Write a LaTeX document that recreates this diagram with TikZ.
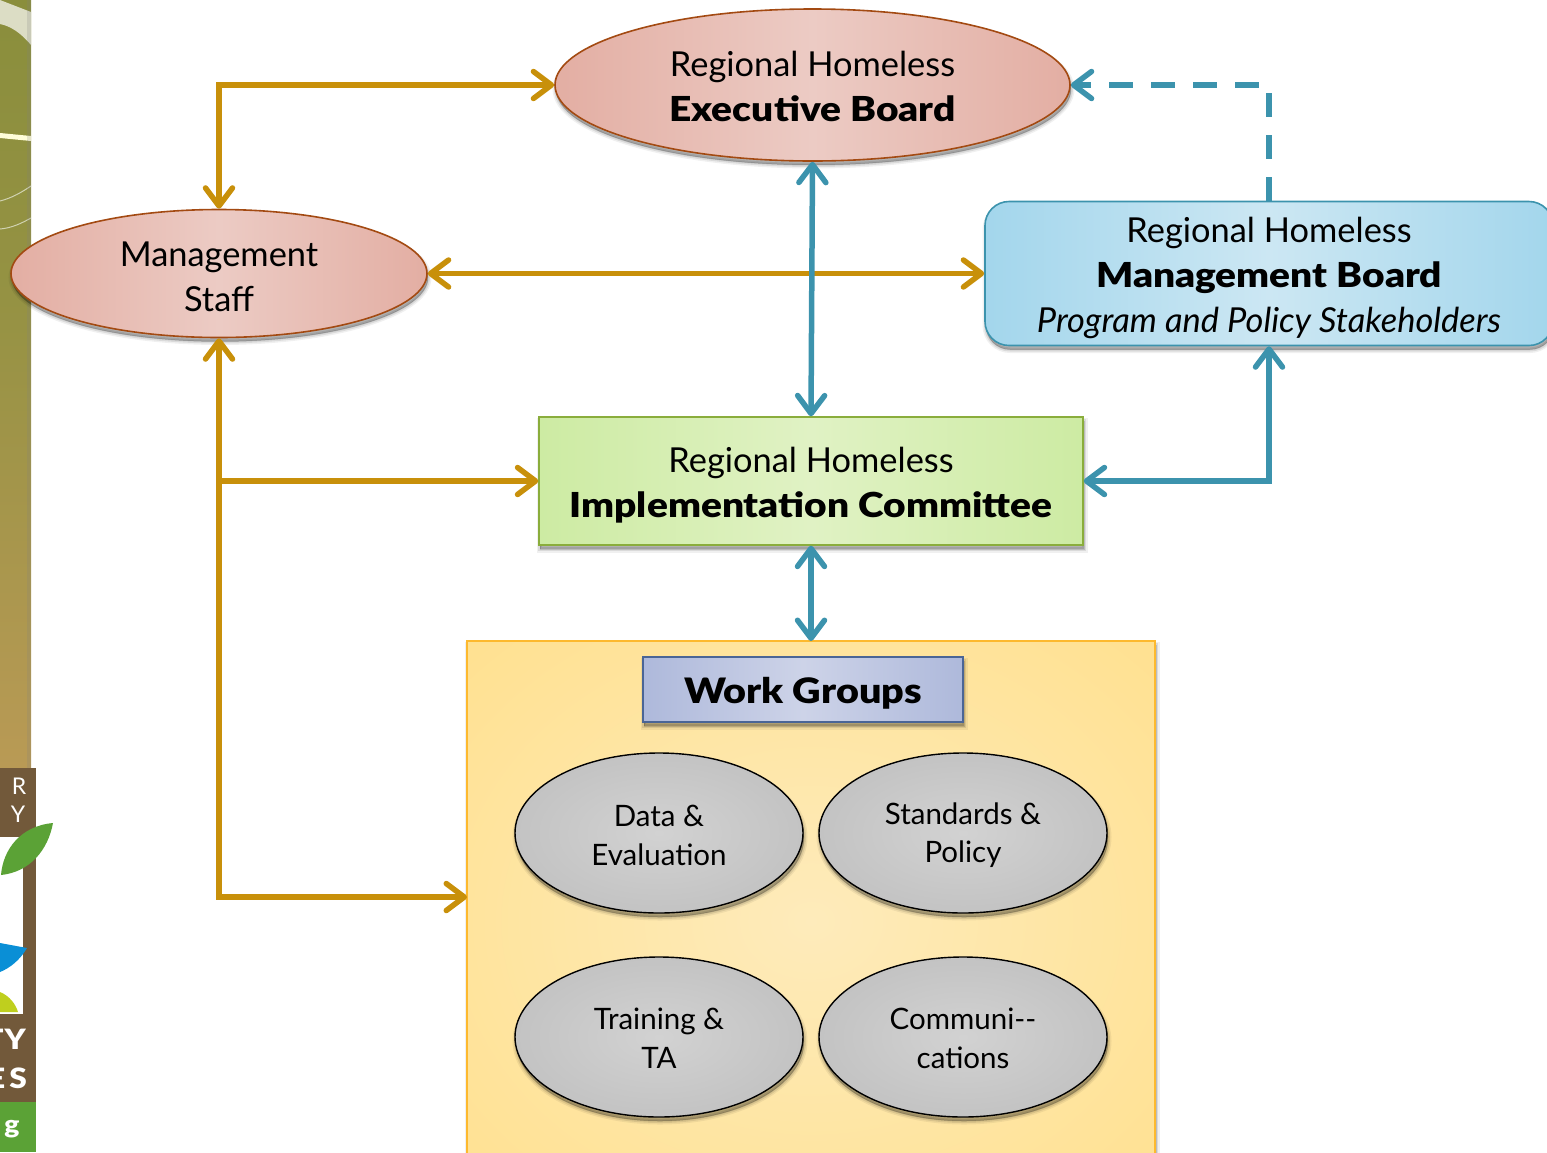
\documentclass[tikz,border=0pt]{standalone}
\usepackage{fontspec}
\setmainfont{Lato}[BoldFont={Lato Black},BoldFeatures={FakeStretch=1.13}]
\usetikzlibrary{arrows.meta,shapes.geometric,calc}
\definecolor{gold}{HTML}{C8900A}
\definecolor{teal}{HTML}{3C93AD}
\definecolor{brownln}{HTML}{A34A12}
\definecolor{brownbk}{HTML}{72593A}
\definecolor{pinkedge}{HTML}{E3AEA3}
\definecolor{pinkmid}{HTML}{ECCBC4}
\definecolor{graymid}{HTML}{D2D2D2}
\definecolor{grayedge}{HTML}{B4B4B4}
\definecolor{blueedge}{HTML}{A3D6EC}
\definecolor{bluemid}{HTML}{CCE7F3}
\definecolor{greenedge}{HTML}{CDEBA3}
\definecolor{greenmid}{HTML}{E0F2C4}
\definecolor{greenln}{HTML}{8AAD3C}
\definecolor{yellowmid}{HTML}{FEEBBB}
\definecolor{yellowedge}{HTML}{FFDE85}
\definecolor{yellowln}{HTML}{FDB92E}
\definecolor{lavedge}{HTML}{AEB9DB}
\definecolor{lavmid}{HTML}{CDD3E8}
\definecolor{lavln}{HTML}{4A6596}
\definecolor{stripa}{HTML}{8A8E3C}
\definecolor{stripb}{HTML}{959243}
\definecolor{stripc}{HTML}{B99A55}
\definecolor{leafgreen}{HTML}{5BA236}
\definecolor{leafblue}{HTML}{0A8FD6}
\definecolor{leaflime}{HTML}{BFCF1E}
\pgfdeclareradialshading{graysh}{\pgfpoint{0bp}{0bp}}{color(0bp)=(graymid);color(50bp)=(grayedge);color(72bp)=(grayedge)}
\pgfdeclareradialshading{yelsh}{\pgfpoint{0bp}{0bp}}{color(0bp)=(yellowmid);color(45bp)=(yellowedge);color(72bp)=(yellowedge)}
\newcommand{\dn}[1]{\rule{0pt}{#1pt}}
\tikzset{
 softshadow/.style={
  preaction={draw=black,fill=black,opacity=.06,line width=7pt,transform canvas={shift={(1pt,-4pt)}}},
  preaction={draw=black,fill=black,opacity=.09,line width=4pt,transform canvas={shift={(1pt,-4pt)}}},
  preaction={draw=black,fill=black,opacity=.14,line width=1pt,transform canvas={shift={(1pt,-4pt)}}}},
 bigtext/.style={align=center,font=\fontsize{34.4}{45}\selectfont},
 pinkell/.style={ellipse,inner sep=0pt,draw=brownln,line width=1.6pt,softshadow,left color=pinkedge,right color=pinkedge,middle color=pinkmid,bigtext},
 grayell/.style={ellipse,inner sep=0pt,draw=black,line width=1.4pt,minimum width=288pt,minimum height=160pt,softshadow,shading=graysh,align=center,font=\fontsize{29.5}{38.5}\selectfont},
 flow/.style={line width=5.5pt,line cap=round,line join=miter,{Straight Barb[length=18pt,width=27pt,round]}-{Straight Barb[length=18pt,width=27pt,round]}},
 flowgold/.style={flow,draw=gold},
 flowteal/.style={flow,draw=teal},
 oneway/.style={line width=5.5pt,draw=gold,-{Straight Barb[length=18pt,width=27pt,round]}},
}
\begin{document}
\begin{tikzpicture}[x=1pt,y=-1pt]
\useasboundingbox (0,0) rectangle (1547,1152);
% left decoration
\shade[top color=stripa,bottom color=stripb] (0,0) rectangle (31,300);
\shade[top color=stripb,bottom color=stripc] (0,300) rectangle (31,768);
\fill[white!70!stripa] (0,0) -- (31,12) -- (31,45) .. controls (20,32) and (10,26) .. (0,24) -- cycle;
\fill[white!85!yellow] (0,133) -- (31,136) -- (31,141) -- (0,138) -- cycle;
\draw[white!60!stripa,line width=1pt] (0,201) .. controls (12,198) and (22,192) .. (31,186);
\draw[white!60!stripa,line width=1pt] (0,229) .. controls (12,228) and (22,223) .. (31,218);
\fill[gray,opacity=.2] (27,0) rectangle (31,768);
\fill[brownbk] (0,768) rectangle (36,1102);
\fill[white] (0,837) rectangle (23,1014);
\fill[leafgreen] (1,875) .. controls (3,850) and (20,826) .. (53,823) .. controls (48,850) and (30,872) .. (1,875) -- cycle;
\fill[leafblue] (0,943) -- (27,948) .. controls (20,960) and (10,968) .. (0,972) -- cycle;
\fill[leaflime] (0,992) .. controls (10,996) and (16,1005) .. (18,1012) -- (0,1012) -- cycle;
\fill[leafgreen] (0,1102) rectangle (36,1152);
\node[text=white,font=\fontsize{23}{23}\selectfont,anchor=center] (lr) at (19,786) {R};
\node[text=white,font=\fontsize{23}{23}\selectfont,anchor=center] (ly) at (18,814) {Y};
\node[text=white,font=\bfseries\fontsize{28}{30}\selectfont,anchor=east,inner sep=0pt] (lty) at (26,1039) {T\kern1pt Y};
\node[text=white,font=\bfseries\fontsize{28}{30}\selectfont,anchor=east,inner sep=0pt] (les) at (27,1078) {E\kern4pt S};
\node[text=white,font=\bfseries\fontsize{25}{27}\selectfont,inner sep=0pt] (lg) at (12,1129) {g};
% nodes
\node[pinkell,minimum width=515pt,minimum height=152pt] (exec) at (812.5,85) {\dn{28}Regional Homeless\\\textbf{Executive Board}};
\node[pinkell,minimum width=416pt,minimum height=128pt] (staff) at (219,273.5) {\dn{31.5}Management\\Staff};
\node[draw=teal,line width=1.6pt,rounded corners=24pt,softshadow,left color=blueedge,right color=blueedge,middle color=bluemid,minimum width=568pt,minimum height=144pt,inner sep=0pt,bigtext] (mgmt) at (1269,273.5) {\dn{33.5}Regional Homeless\\\textbf{Management Board}\\\textit{Program and Policy Stakeholders}};
\node[draw=greenln,line width=1.4pt,softshadow,left color=greenedge,right color=greenedge,middle color=greenmid,minimum width=544pt,minimum height=128pt,inner sep=0pt,bigtext] (impl) at (811,481) {\dn{33.5}Regional Homeless\\\textbf{Implementation Committee}};
\node[draw=yellowln,line width=1.6pt,softshadow,shading=yelsh,minimum width=688pt,minimum height=560pt,inner sep=0pt] (wg) at (811,921) {};
\node[draw=lavln,line width=1.6pt,softshadow,left color=lavedge,right color=lavedge,middle color=lavmid,minimum width=320pt,minimum height=65pt,inner sep=0pt,font=\bfseries\fontsize{35}{45}\selectfont] (wgt) at (803,689.5) {\dn{33}Work Groups};
\node[grayell] (g1) at (659,833) {\dn{26}Data \&\\Evaluation};
\node[grayell] (g2) at (963,833) {\dn{26}Standards \&\\Policy};
\node[grayell] (g3) at (659,1037) {\dn{24}Training \&\\TA};
\node[grayell] (g4) at (963,1037) {\dn{24}Communi-{}-\\cations};
% connector ends
\coordinate (branch) at (219,481);
\coordinate (wgin) at (467,897);
\coordinate (wgtop) at (811,641);
% connectors
\draw[flowgold] (exec.west) -| (staff.north);
\draw[flowgold] (staff.east) -- (mgmt.west);
\draw[flowteal] (exec.south) -- (impl.north);
\draw[flowteal] (impl.east) -| (mgmt.south);
\draw[flowteal] (impl.south) -- (wgtop);
\draw[flowgold] (staff.south) |- (wgin);
\draw[oneway] (branch) -- (impl.west);
\draw[line width=5.5pt,draw=teal,dash pattern=on 24pt off 18pt,-{Straight Barb[length=18pt,width=27pt,round]}] (mgmt.north) |- (exec.east);
\end{tikzpicture}
\end{document}
